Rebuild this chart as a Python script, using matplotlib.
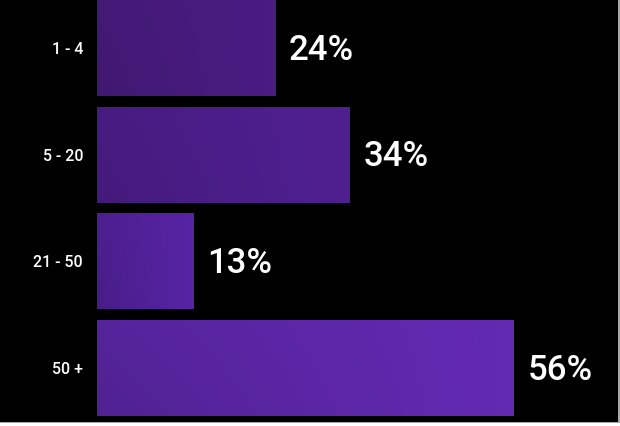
import matplotlib
matplotlib.use("Agg")
import matplotlib.pyplot as plt
import numpy as np
from matplotlib.patches import Rectangle

categories = ["1 - 4", "5 - 20", "21 - 50", "50 +"]
values = [24, 34, 13, 56]
value_labels = ["24%", "34%", "13%", "56%"]
bar_colors = ["#4a1c82", "#4f1f90", "#5623a2", "#6229b1"]

W, H = 620, 426
fig = plt.figure(figsize=(W / 100, H / 100), dpi=100, facecolor="white")
# black canvas with thin grey edge on right/bottom
fig.patches.append(Rectangle((0, 4 / H), 618 / W, 1 - 4 / H, transform=fig.transFigure,
                             facecolor="black", edgecolor="none", zorder=-10))
fig.patches.append(Rectangle((618 / W, 3 / H), 1.5 / W, 1 - 3 / H, transform=fig.transFigure,
                             facecolor="#a8a8a8", edgecolor="none", zorder=-9))
fig.patches.append(Rectangle((0, 3 / H), 619.5 / W, 1.5 / H, transform=fig.transFigure,
                             facecolor="#a8a8a8", edgecolor="none", zorder=-9))

ax = fig.add_axes([97 / W, 5 / H, 520 / W, 421 / H])
ax.set_facecolor("black")
ax.patch.set_alpha(0)
pitch = 106.7
ax.set_xlim(0, 520 / 7.45)
ax.set_ylim((421 - 48) / pitch, -48 / pitch)

y = np.arange(len(categories))
bars = ax.barh(y, values, height=0.9, color=bar_colors, zorder=2)

# subtle darker texture fading to the right, clipped to each bar
gx = np.linspace(0, 1, 200)
gy = np.linspace(0, 1, 40)
GX, GY = np.meshgrid(gx, gy)
alpha = np.clip(0.32 * (1 - GX) ** 1.3 * (0.7 + 0.3 * GY), 0, 1)
overlay = np.zeros((40, 200, 4))
overlay[..., 0] = 0.16
overlay[..., 1] = 0.07
overlay[..., 2] = 0.30
overlay[..., 3] = alpha
for b in bars:
    x0, y0, w, h = b.get_x(), b.get_y(), b.get_width(), b.get_height()
    im = ax.imshow(overlay, extent=(x0, x0 + w, y0 + h, y0), aspect="auto",
                   interpolation="bilinear", zorder=3)
    im.set_clip_path(b)

for i, (v, lab) in enumerate(zip(values, value_labels)):
    ax.annotate(lab, xy=(v, i), xytext=(13, -2), textcoords="offset pixels",
                ha="left", va="center", color="white", fontsize=25,
                fontfamily="Roboto", fontweight="medium")

ax.set_yticks(y)
ax.set_yticklabels(categories, color="white", fontsize=11.5, fontfamily="Roboto",
                   fontweight="medium")
ax.tick_params(axis="y", length=0, pad=10)
ax.set_xticks([])
for s in ax.spines.values():
    s.set_visible(False)

fig.savefig("out.png", dpi=100, facecolor=fig.get_facecolor())
